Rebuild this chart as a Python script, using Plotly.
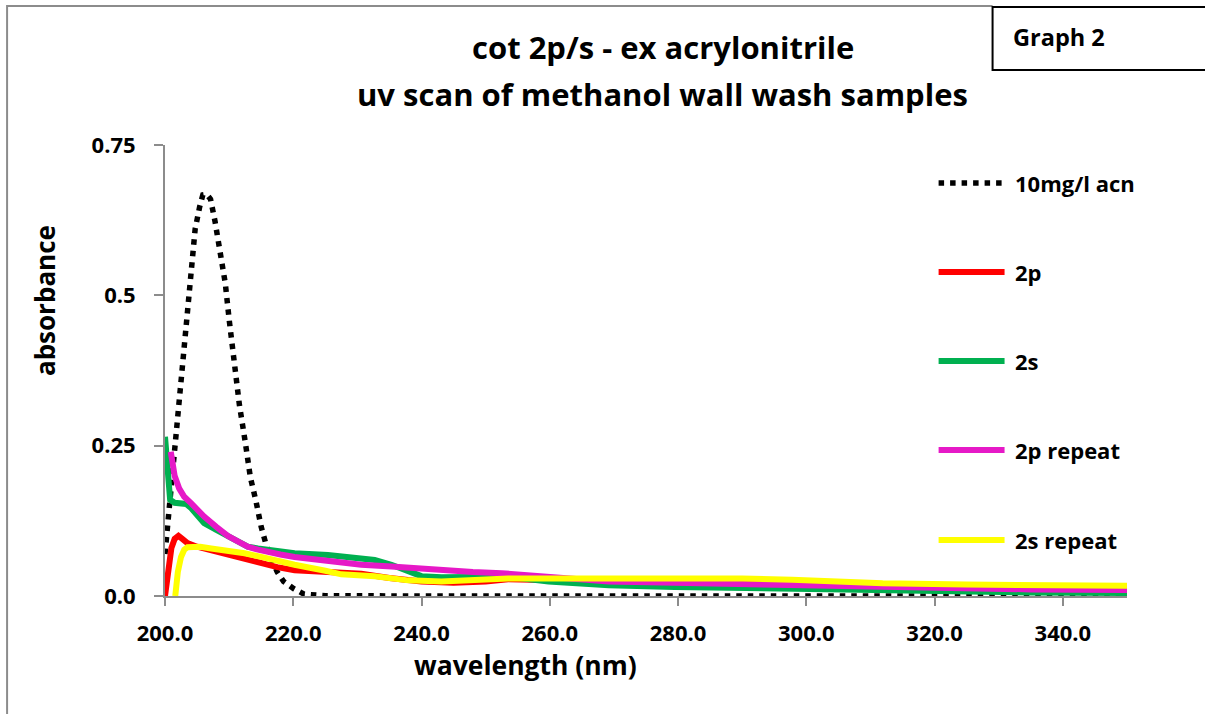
import plotly.graph_objects as go

# UV absorbance scans (wavelength in nm, absorbance units)
acn_nm = [200, 200.6, 201.6, 202.5, 203.5, 204.1, 204.7, 205.4, 205.9, 206.5, 207.1,
          207.8, 208.5, 209.4, 210.0, 210.8, 211.6, 212.5, 213.3, 214.2, 215.0, 215.9,
          217.5, 218.5, 220.1, 221.7, 225, 240, 260, 300, 350]
acn_abs = [0.07, 0.14, 0.26, 0.36, 0.46, 0.545, 0.61, 0.647, 0.667, 0.668, 0.66,
           0.623, 0.58, 0.52, 0.46, 0.38, 0.318, 0.257, 0.198, 0.157, 0.115, 0.08,
           0.04, 0.024, 0.012, 0.003, 0.0005, 0, 0, 0, 0]

p2_nm = [200, 200.5, 201.0, 201.5, 202.1, 202.7, 203.5, 205, 207.2, 210, 212.4, 215,
         217.5, 220.2, 225, 230.6, 235, 240, 245, 250, 253.5, 260, 270, 280, 290, 300,
         310, 320, 330, 340, 350]
p2_abs = [0.0, 0.05, 0.08, 0.095, 0.1, 0.095, 0.088, 0.082, 0.076, 0.068, 0.06, 0.054,
          0.048, 0.043, 0.04, 0.037, 0.03, 0.024, 0.022, 0.024, 0.028, 0.026, 0.024,
          0.022, 0.02, 0.02, 0.018, 0.016, 0.015, 0.014, 0.013]

s2_nm = [200, 200.4, 200.8, 201.5, 202.5, 203.3, 204.1, 205, 206.1, 208, 209.8, 211.5,
         212.9, 214.5, 216, 218, 220.2, 225.4, 229.6, 232.7, 235.3, 237.5, 240, 243.1,
         248, 253.5, 259.8, 269.2, 279.5, 297.8, 310, 320, 335, 350]
s2_abs = [0.265, 0.2, 0.16, 0.155, 0.155, 0.153, 0.146, 0.135, 0.121, 0.11, 0.1, 0.09,
          0.082, 0.079, 0.077, 0.074, 0.071, 0.068, 0.064, 0.06, 0.052, 0.042, 0.033,
          0.031, 0.031, 0.032, 0.024, 0.018, 0.015, 0.012, 0.009, 0.007, 0.006, 0.005]

p2r_nm = [200.9, 201.5, 202.2, 203, 204.1, 205, 206.1, 208, 209.8, 211.5, 212.9, 214.5,
          216, 218, 220.2, 225, 230.6, 235.3, 240, 243.1, 248, 252.5, 256, 259.8, 269.2,
          279.5, 297.8, 310, 320, 335, 350]
p2r_abs = [0.24, 0.2, 0.179, 0.165, 0.154, 0.144, 0.132, 0.115, 0.1, 0.09, 0.082, 0.077,
           0.073, 0.069, 0.065, 0.058, 0.052, 0.049, 0.045, 0.042, 0.04, 0.038, 0.035,
           0.031, 0.024, 0.022, 0.018, 0.014, 0.012, 0.011, 0.01]

s2r_nm = [201.6, 202.0, 202.5, 203.0, 203.5, 204.1, 205.5, 207.2, 210, 212.4, 215, 217.5,
          220.2, 225, 227.5, 232.7, 237.9, 243.1, 248, 253.5, 259.8, 269.2, 279.5, 290,
          297.8, 311.9, 325, 340, 350]
s2r_abs = [0.0, 0.04, 0.065, 0.077, 0.081, 0.082, 0.082, 0.079, 0.075, 0.071, 0.065, 0.058,
           0.052, 0.042, 0.036, 0.033, 0.026, 0.024, 0.026, 0.029, 0.029, 0.029, 0.03, 0.029,
           0.027, 0.021, 0.019, 0.018, 0.017]

series_names = ["10mg/l acn", "2p", "2s", "2p repeat", "2s repeat"]
y_tick_vals = [0, 0.25, 0.5, 0.75]
y_tick_text = ["0.0", "0.25", "0.5", "0.75"]

FONT = "Open Sans"
GRAY = "#8c8c8c"
colors = ["black", "#ff0000", "#00b050", "#e619c7", "#ffff00"]
DOTTED = dict(color="black", width=5.5, dash="5.5px,6px")
LINE_W = 6

# pixel geometry of the plotting area
W, H = 1205, 714
L, R, T, B = 165, 1127.5, 145, 596
pw, ph = R - L, B - T


def px(x):
    return (x - L) / pw


def py(y):
    return (B - y) / ph


def bold(size):
    return dict(family=FONT, size=size, color="black", weight="bold")


fig = go.Figure()
data = [(acn_nm, acn_abs), (p2_nm, p2_abs), (s2_nm, s2_abs), (p2r_nm, p2r_abs), (s2r_nm, s2r_abs)]
for i, (xs, ys) in enumerate(data):
    line = DOTTED if i == 0 else dict(color=colors[i], width=LINE_W)
    fig.add_trace(go.Scatter(x=xs, y=ys, mode="lines", name=series_names[i],
                             line=line, showlegend=False))

shapes = []
annotations = []

# legend drawn beside the plot
legend_y = [183, 272, 361, 450, 540]
for i, name in enumerate(series_names):
    yy = py(legend_y[i])
    ln = DOTTED if i == 0 else dict(color=colors[i], width=LINE_W)
    shapes.append(dict(type="line", xref="paper", yref="paper",
                       x0=px(939), x1=px(1005), y0=yy, y1=yy, line=ln))
    annotations.append(dict(xref="paper", yref="paper", x=px(1013), y=yy, text=name,
                            showarrow=False, xanchor="left", yanchor="middle",
                            font=bold(22)))

# outer chart border (left and top edges) and the "Graph 2" label box
shapes.append(dict(type="path", xref="paper", yref="paper",
                   path=f"M {px(7)},{py(720)} L {px(7)},{py(6)} L {px(993)},{py(6)}",
                   line=dict(color=GRAY, width=2)))
shapes.append(dict(type="rect", xref="paper", yref="paper",
                   x0=px(993), x1=px(1215), y0=py(70), y1=py(7),
                   line=dict(color="black", width=2), fillcolor="white"))
annotations.append(dict(xref="paper", yref="paper", x=px(1011), y=py(37), text="Graph 2",
                        showarrow=False, xanchor="left", yanchor="middle",
                        font=bold(23.5)))

# titles
annotations.append(dict(xref="paper", yref="paper", x=px(663), y=py(47),
                        text="cot 2p/s - ex acrylonitrile", showarrow=False,
                        xanchor="center", yanchor="middle", font=bold(31)))
annotations.append(dict(xref="paper", yref="paper", x=px(663), y=py(94),
                        text="uv scan of methanol wall wash samples", showarrow=False,
                        xanchor="center", yanchor="middle", font=bold(31)))
annotations.append(dict(xref="paper", yref="paper", x=px(526), y=py(665),
                        text="wavelength (nm)", showarrow=False,
                        xanchor="center", yanchor="middle", font=bold(26.5)))
annotations.append(dict(xref="paper", yref="paper", x=px(45), y=py(301),
                        text="absorbance", showarrow=False, textangle=-90,
                        xanchor="center", yanchor="middle", font=bold(26)))

fig.update_layout(
    width=W, height=H,
    margin=dict(l=L, r=W - R, t=T, b=H - B),
    paper_bgcolor="white", plot_bgcolor="white",
    shapes=shapes, annotations=annotations,
    font=dict(family=FONT, color="black"),
)
fig.update_xaxes(range=[200, 350], dtick=20, tick0=200, tickformat=".1f",
                 showgrid=False, zeroline=False, showline=True, linecolor=GRAY, linewidth=2,
                 ticks="outside", ticklen=8, tickcolor=GRAY, tickwidth=2,
                 ticklabelstandoff=9, tickfont=bold(22))
fig.update_yaxes(range=[0, 0.75], tickvals=y_tick_vals, ticktext=y_tick_text,
                 showgrid=False, zeroline=False, showline=True, linecolor=GRAY, linewidth=2,
                 ticks="outside", ticklen=9, tickcolor=GRAY, tickwidth=2,
                 ticklabelstandoff=14, tickfont=bold(22))

fig.write_html("out.html")
